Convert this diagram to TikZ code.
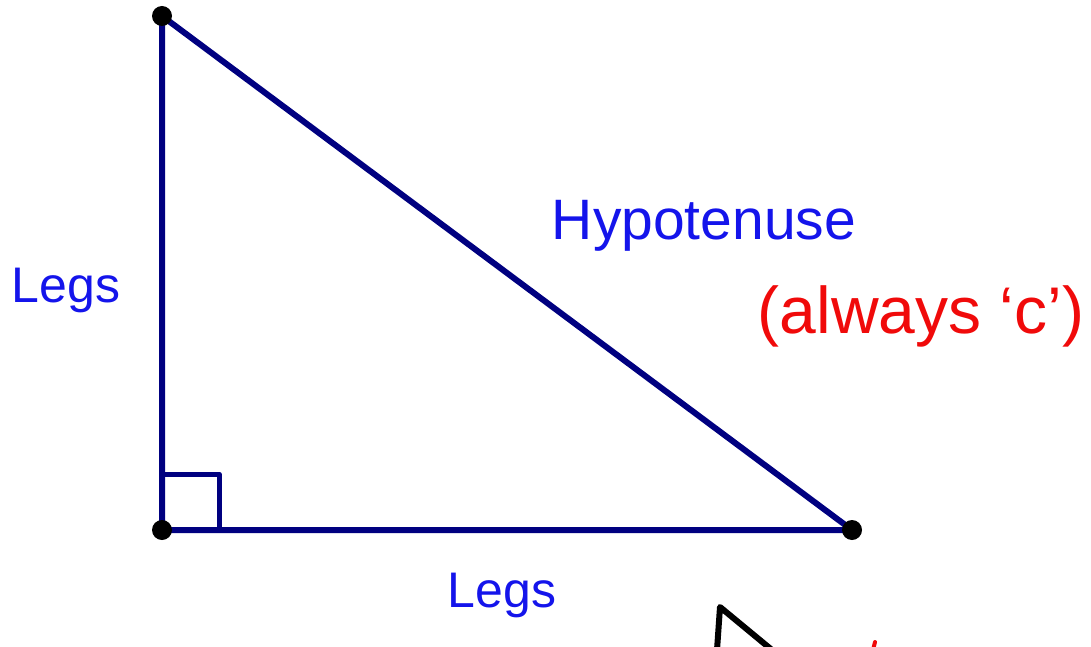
\documentclass[tikz,border=0pt]{standalone}
\usepackage{fontspec}
\setmainfont{Liberation Sans}
\usepackage{tikz}
\usetikzlibrary{positioning,calc}

\definecolor{legblue}{RGB}{0,0,128}
\definecolor{inkblue}{RGB}{20,20,235}
\definecolor{inkred}{RGB}{240,10,10}

\begin{document}
\begin{tikzpicture}[x=1pt, y=-1pt,
    side/.style={draw=legblue, line width=6pt, line join=round},
    vertex/.style={circle, fill=black, inner sep=0pt, minimum size=20pt},
    bluetext/.style={text=inkblue, font=\fontsize{50}{60}\selectfont},
    redtext/.style={text=inkred, font=\fontsize{66}{74}\selectfont}]
    \useasboundingbox (0,0) rectangle (1091,647);

    % Triangle corners
    \coordinate (top) at (162,16);
    \coordinate (corner) at (162,530);
    \coordinate (right) at (852,530);
    \draw[side] (top) -- (corner) -- (right) -- cycle;

    % Right angle mark
    \draw[side, line width=5pt] (162,474) -- (219,474) -- (219,530);

    % Vertices
    \foreach \v in {top,corner,right} \node[vertex] at (\v) {};

    % Labels
    \node[bluetext] (legleft) at (66,290) {Legs};
    \node[bluetext] (legbottom) at (502,595) {Legs};
    \node[bluetext, font=\fontsize{57}{66}\selectfont] (hyp) at (704,226) {Hypotenuse};
    \node[redtext] (always) at (921,316) {(always `c')};

    % Cut off strokes at the bottom
    \draw[line width=6pt, line cap=round, line join=round] (717,650) -- (720,607) -- (772,650);
    \draw[inkred, line width=4pt, line cap=round] (875,642) -- (873,650);
\end{tikzpicture}
\end{document}
